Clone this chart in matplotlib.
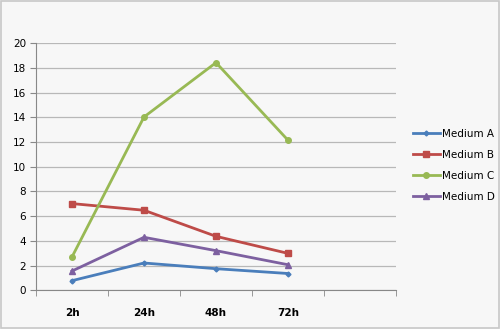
import numpy as np
import matplotlib.pyplot as plt
from matplotlib.patches import Rectangle

categories = ["2h", "24h", "48h", "72h", ""]
medium_a = [0.78, 2.21, 1.75, 1.36]
medium_b = [7.02, 6.48, 4.37, 2.99]
medium_c = [2.70, 14.03, 18.43, 12.15]
medium_d = [1.56, 4.29, 3.21, 2.07]

series = [
    ("Medium A", medium_a, "#4A7EBB", "D", 2.5),
    ("Medium B", medium_b, "#BE4B48", "s", 4),
    ("Medium C", medium_c, "#98B954", "o", 4),
    ("Medium D", medium_d, "#7D60A0", "^", 4.5),
]

fig = plt.figure(figsize=(5, 3.29), dpi=100, facecolor="#F7F7F7")
fig.patches.append(Rectangle((0.002, 0.003), 0.995, 0.994, transform=fig.transFigure,
                             fill=False, edgecolor="#C8C8C8", linewidth=1.2))
ax = fig.add_axes([0.072, 0.1176, 0.72, 0.751])
ax.set_facecolor("#F7F7F7")

x = np.arange(len(medium_a))
for name, vals, col, mk, ms in series:
    ax.plot(x, vals, color=col, marker=mk, markersize=ms, linewidth=2, label=name)

ax.set_xlim(-0.5, len(categories) - 0.5)
ax.set_ylim(0, 20)
ax.set_yticks(np.arange(0, 21, 2))
ax.set_xticks(np.arange(len(categories)))
ax.set_xticklabels(categories, fontweight="bold", fontsize=7.5)
ax.set_xticks(np.arange(len(categories) + 1) - 0.5, minor=True)
ax.tick_params(axis="x", which="major", length=0, pad=13)
ax.tick_params(axis="x", which="minor", length=4, color="#888888", direction="out")
ax.tick_params(axis="y", length=4, color="#888888", labelsize=7.5, pad=3)
ax.grid(axis="y", color="#B8B8B8", linewidth=0.9)
ax.set_axisbelow(True)
for s in ["top", "right"]:
    ax.spines[s].set_visible(False)
for s in ["left", "bottom"]:
    ax.spines[s].set_color("#888888")

ax.legend(loc="center left", bbox_to_anchor=(1.02, 0.505), frameon=False,
          fontsize=7.5, handlelength=2.6, handletextpad=0.2, labelspacing=1.05)

fig.savefig("out.png", dpi=100, facecolor=fig.get_facecolor())
